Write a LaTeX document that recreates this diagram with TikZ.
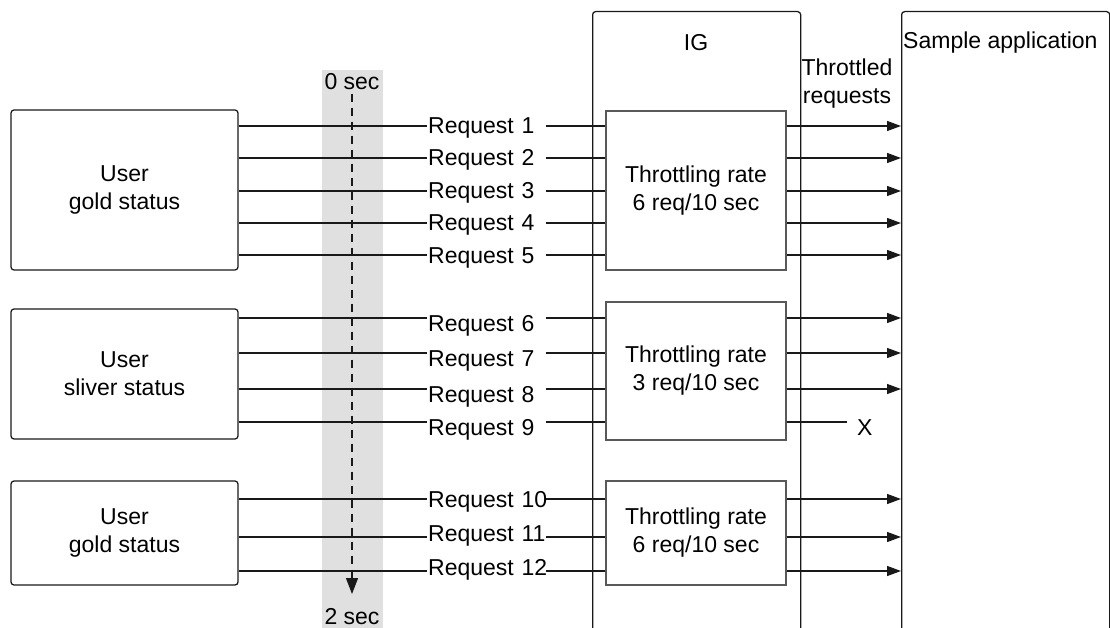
\documentclass[tikz,border=0pt]{standalone}
\usepackage{fontspec}
\setmainfont{Liberation Sans}
\usetikzlibrary{arrows.meta}
\begin{document}
\begin{tikzpicture}[x=1pt,y=-1pt,
  every node/.style={font=\fontsize{23}{28}\selectfont},
  ln/.style={line width=1.25pt, draw=black!90},
  arr/.style={ln, -{Triangle[length=14pt,width=10pt]}},
  userbox/.style={draw=black!90, line width=1.25pt, rounded corners=3pt, minimum width=227pt, align=center, inner sep=0pt},
  thrbox/.style={draw=black!65, line width=1.25pt, minimum width=180pt, align=center, inner sep=0pt, fill=white},
  bigbox/.style={draw=black!90, line width=1.25pt, rounded corners=3pt, minimum width=208pt, minimum height=660pt, anchor=north west, inner sep=0pt},
  req/.style={text width=117pt, align=left, inner sep=1pt, anchor=west, text height=16pt, text depth=0pt},
]
\useasboundingbox (0,0) rectangle (1110,628);
\clip (0,0) rectangle (1110,628);
% time band
\fill[black!12] (322,70) rectangle (383,640);
\node (s0) at (352,82) {0 sec};
\node (s2) at (352,617) {2 sec};
\coordinate (tend) at (352,594);
\draw[ln, dash pattern=on 8pt off 6pt, -{Triangle[length=16pt,width=12pt]}] (s0.south) -- (tend);
% big boxes
\node[bigbox] (ig) at (592,11) {};
\node (iglab) at (696,43) {IG};
\node[bigbox] (app) at (901,11) {};
\node[anchor=west, inner sep=1pt] (applab) at (902,43) {Sample application};
\node[align=center, inner sep=0pt] (thr) at (847,84) {Throttled\\requests};
% user boxes
\node[userbox, minimum height=160pt] (u1) at (124.5,190) {User\\gold status};
\node[userbox, minimum height=130pt] (u2) at (124.5,374) {User\\sliver status};
\node[userbox, minimum height=104pt] (u3) at (124.5,533) {User\\gold status};
% throttle boxes
\node[thrbox, minimum height=159pt] (t1) at (696,190.5) {Throttling rate\\6 req/10 sec};
\node[thrbox, minimum height=138pt] (t2) at (696,371) {Throttling rate\\3 req/10 sec};
\node[thrbox, minimum height=104pt] (t3) at (696,533) {Throttling rate\\6 req/10 sec};
% requests
\foreach \i/\y/\off/\u/\t in {1/126/0/u1/t1, 2/158/0/u1/t1, 3/191/0/u1/t1, 4/223/0/u1/t1, 5/255/0/u1/t1,
  6/318/-5/u2/t2, 7/353/-5/u2/t2, 8/389/-5/u2/t2, 9/422/-5/u2/t2,
  10/499/0/u3/t3, 11/537/4/u3/t3, 12/571/4/u3/t3} {
  \node[req] (r\i) at (427,\y) {\raisebox{\off pt}{Request \i}};
  \draw[ln] (\u.east |- r\i.west) -- (r\i.west);
  \draw[ln] (r\i.east) -- (\t.west |- r\i.east);
}
\foreach \i/\t in {1/t1,2/t1,3/t1,4/t1,5/t1,6/t2,7/t2,8/t2,10/t3,11/t3,12/t3} {
  \draw[arr] (\t.east |- r\i.east) -- (app.west |- r\i.east);
}
\coordinate (x9) at (847,422);
\draw[ln] (t2.east |- r9.east) -- (x9);
\node[anchor=west, inner sep=0pt] (xm) at (857,428) {X};
\end{tikzpicture}
\end{document}
